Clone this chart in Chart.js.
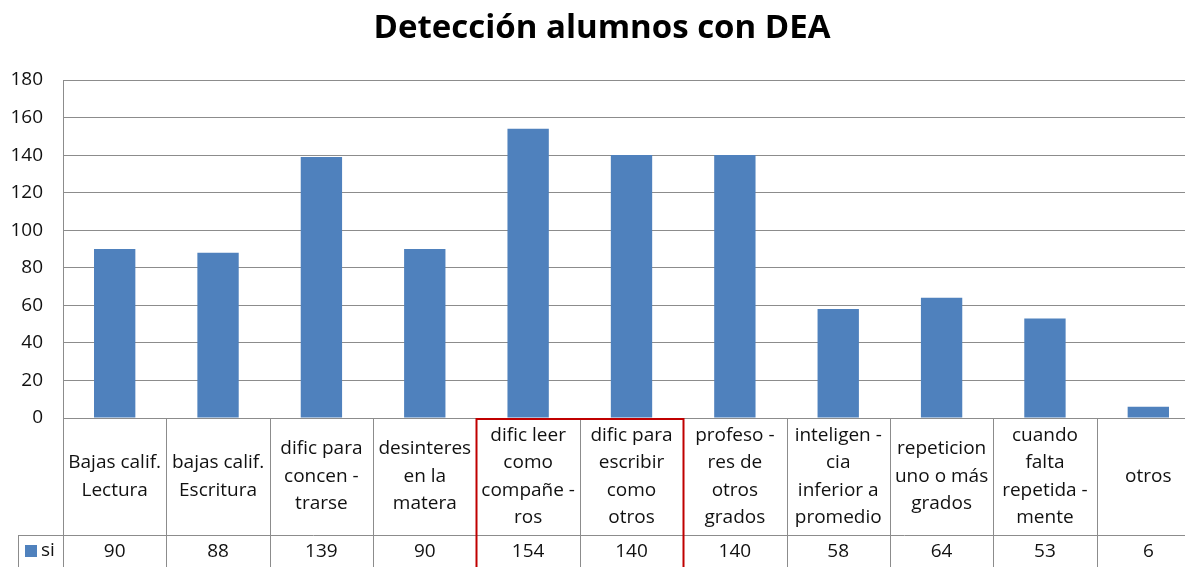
<!DOCTYPE html>
<html>
<head>
<meta charset="utf-8">
<script src="https://cdn.jsdelivr.net/npm/chart.js@4.4.0/dist/chart.umd.min.js"></script>
<style>
  html, body { margin: 0; padding: 0; background: #fff; overflow: hidden; }
  #wrap { position: relative; width: 1204px; height: 567px; }
</style>
</head>
<body>
<div id="wrap"><canvas id="c"></canvas></div>
<script>
const chartTitle = 'Detección alumnos con DEA';
const seriesName = 'si';
const categories = [
  ['Bajas calif.', 'Lectura'],
  ['bajas calif.', 'Escritura'],
  ['dific para', 'concen -', 'trarse'],
  ['desinteres', 'en la', 'matera'],
  ['dific leer', 'como', 'compañe -', 'ros'],
  ['dific para', 'escribir', 'como', 'otros'],
  ['profeso -', 'res de', 'otros', 'grados'],
  ['inteligen -', 'cia', 'inferior a', 'promedio'],
  ['repeticion', 'uno o más', 'grados'],
  ['cuando', 'falta', 'repetida -', 'mente'],
  ['otros']
];
const values = [90, 88, 139, 90, 154, 140, 140, 58, 64, 53, 6];
const yTicks = [0, 20, 40, 60, 80, 100, 120, 140, 160, 180];
const highlighted = [4, 5];

const FONT = '"Open Sans", "Liberation Sans", sans-serif';
const BAR = '#4f81bd';
const LINE = '#8c8c8c';

const tablePlugin = {
  id: 'dataTable',
  afterDraw(chart) {
    const ctx = chart.ctx;
    const ca = chart.chartArea;
    const xs = chart.scales.x;
    const n = categories.length;
    const half = (xs.getPixelForValue(1) - xs.getPixelForValue(0)) / 2;
    const top = ca.bottom;
    const row1 = top + 117;
    const bottom = chart.height + 5;
    const legendLeft = 18;
    ctx.save();
    // title
    ctx.fillStyle = '#000';
    ctx.font = 'bold 33px ' + FONT;
    ctx.textAlign = 'center';
    ctx.textBaseline = 'middle';
    ctx.fillText(chartTitle, 602, 29);

    ctx.strokeStyle = LINE;
    ctx.lineWidth = 1;
    ctx.beginPath();
    ctx.moveTo(ca.left, top + 0.5); ctx.lineTo(ca.right, top + 0.5);
    ctx.moveTo(legendLeft, row1 + 0.5); ctx.lineTo(ca.right, row1 + 0.5);
    ctx.stroke();
    ctx.beginPath();
    for (let i = 0; i <= n; i++) {
      const x = Math.round(xs.getPixelForValue(i) - half) + 0.5;
      ctx.moveTo(x, top); ctx.lineTo(x, bottom);
    }
    ctx.moveTo(legendLeft + 0.5, row1); ctx.lineTo(legendLeft + 0.5, bottom);
    ctx.stroke();

    // legend key
    ctx.fillStyle = BAR;
    ctx.fillRect(25, row1 + 10, 12, 12);
    ctx.fillStyle = '#111';
    ctx.font = '19px ' + FONT;
    ctx.textAlign = 'left';
    ctx.fillText(seriesName, 41, row1 + 16);

    // category labels and values
    ctx.textAlign = 'center';
    const lh = 27.5;
    const midLabel = (top + row1) / 2;
    for (let i = 0; i < n; i++) {
      const cx = xs.getPixelForValue(i);
      const lines = categories[i];
      const y0 = midLabel - (lines.length - 1) * lh / 2;
      lines.forEach((t, k) => ctx.fillText(t, cx, y0 + k * lh));
      ctx.fillText(String(values[i]), cx, row1 + 17);
    }

    // red highlight box
    const a = highlighted[0], b = highlighted[highlighted.length - 1];
    const xl = Math.round(xs.getPixelForValue(a) - half) + 0.5;
    const xr = Math.round(xs.getPixelForValue(b) + half) + 0.5;
    ctx.strokeStyle = '#c00000';
    ctx.lineWidth = 2;
    ctx.beginPath();
    ctx.moveTo(xl, bottom); ctx.lineTo(xl, top + 1); ctx.lineTo(xr, top + 1); ctx.lineTo(xr, bottom);
    ctx.stroke();
    ctx.restore();
  }
};

new Chart(document.getElementById('c'), {
  type: 'bar',
  data: {
    labels: categories.map(c => c.join(' ')),
    datasets: [{
      label: seriesName,
      data: values,
      backgroundColor: BAR,
      borderWidth: 0,
      barPercentage: 0.4,
      categoryPercentage: 1.0
    }]
  },
  options: {
    responsive: true,
    maintainAspectRatio: false,
    animation: false,
    layout: { padding: { top: 80, bottom: 149, left: 0, right: 4 } },
    plugins: {
      legend: { display: false },
      title: { display: false },
      tooltip: { enabled: false }
    },
    scales: {
      x: { display: false },
      y: {
        min: 0, max: 180,
        afterFit(scale) { scale.width = 63; },
        afterBuildTicks(scale) { scale.ticks = yTicks.map(v => ({ value: v })); },
        border: { display: true, color: LINE, width: 1 },
        grid: { color: LINE, lineWidth: 1, drawTicks: false },
        ticks: {
          padding: 20,
          color: '#111',
          font: { family: FONT, size: 19 }
        }
      }
    }
  },
  plugins: [tablePlugin]
});
</script>
</body>
</html>
